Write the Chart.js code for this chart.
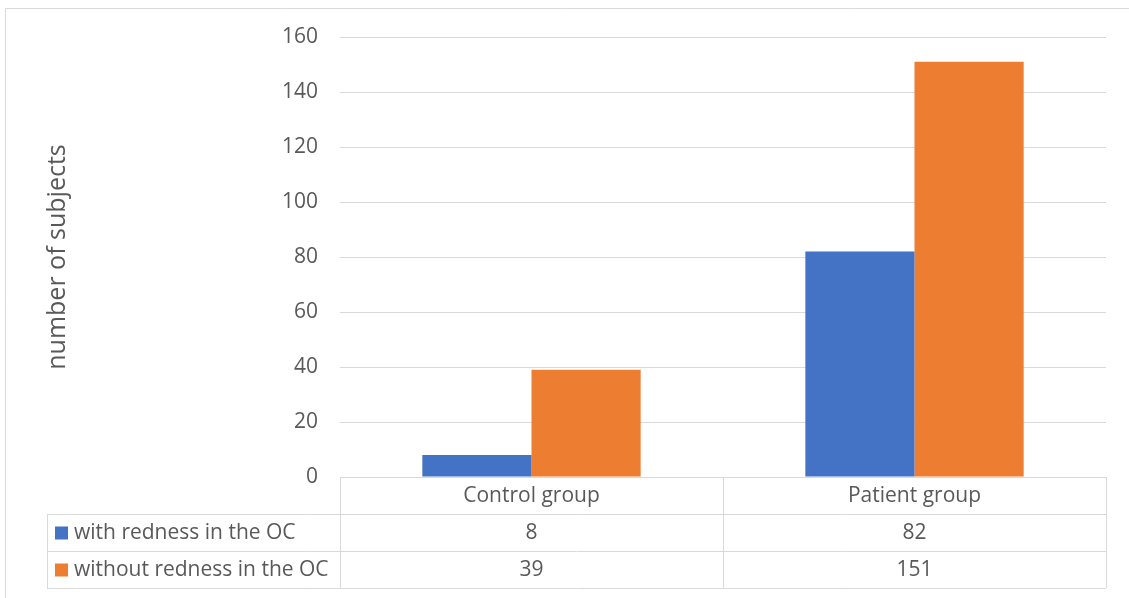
<!DOCTYPE html>
<html>
<head>
<meta charset="utf-8">
<script src="https://cdn.jsdelivr.net/npm/chart.js@4/dist/chart.umd.min.js"></script>
<style>
  html, body { margin:0; padding:0; background:#fff; }
  #wrap { width:1129px; height:598px; position:relative; }
</style>
</head>
<body>
<div id="wrap"><canvas id="c" width="1129" height="598"></canvas></div>
<script>
const groups = ['Control group', 'Patient group'];
const seriesNames = ['with redness in the OC', 'without redness in the OC'];
const withRedness = [8, 82];
const withoutRedness = [39, 151];
const seriesColors = ['#4472C4', '#ED7D31'];

const FONT = '"Open Sans", "Liberation Sans", sans-serif';
const TEXT = '#595959';
const LINE = '#d9d9d9';

// data table under the plot, plus the outer frame
const tablePlugin = {
  id: 'dataTable',
  afterDraw(chart){
    const ctx = chart.ctx;
    const x = chart.scales.x;
    const area = chart.chartArea;
    const rowH = 37;
    const tableLeft = 47;
    const half = (x.getPixelForValue(1) - x.getPixelForValue(0)) / 2;
    const colEdges = groups.map((g,i) => x.getPixelForValue(i) - half);
    colEdges.push(x.getPixelForValue(groups.length-1) + half);
    const rows = [area.bottom, area.bottom+rowH, area.bottom+2*rowH, area.bottom+3*rowH];

    ctx.save();
    ctx.strokeStyle = LINE;
    ctx.lineWidth = 1;
    ctx.beginPath();
    // horizontal lines
    ctx.moveTo(colEdges[0], rows[0]+0.5); ctx.lineTo(colEdges[colEdges.length-1], rows[0]+0.5);
    for(let r=1;r<rows.length;r++){
      ctx.moveTo(tableLeft, rows[r]+0.5); ctx.lineTo(colEdges[colEdges.length-1], rows[r]+0.5);
    }
    // vertical lines
    colEdges.forEach(cx => { ctx.moveTo(Math.round(cx)+0.5, rows[0]); ctx.lineTo(Math.round(cx)+0.5, rows[3]); });
    ctx.moveTo(tableLeft+0.5, rows[1]); ctx.lineTo(tableLeft+0.5, rows[3]);
    // outer frame
    ctx.moveTo(5.5, chart.height+2); ctx.lineTo(5.5, 8.5); ctx.lineTo(chart.width+2, 8.5);
    ctx.stroke();

    ctx.fillStyle = TEXT;
    ctx.font = '21px ' + FONT;
    ctx.textBaseline = 'middle';
    ctx.textAlign = 'center';
    groups.forEach((g,i) => ctx.fillText(g, x.getPixelForValue(i), rows[0]+rowH/2+1));
    const values = [withRedness, withoutRedness];
    values.forEach((vals, r) => {
      const cy = rows[r+1] + rowH/2 + 1;
      ctx.textAlign = 'center';
      ctx.fillStyle = TEXT;
      vals.forEach((v,i) => ctx.fillText(String(v), x.getPixelForValue(i), cy));
      ctx.fillStyle = seriesColors[r];
      ctx.fillRect(55, cy-7, 13, 13);
      ctx.fillStyle = TEXT;
      ctx.textAlign = 'left';
      ctx.fillText(seriesNames[r], 74, cy);
    });
    ctx.restore();
  }
};

new Chart(document.getElementById('c'), {
  type: 'bar',
  data: {
    labels: groups,
    datasets: [
      { label: seriesNames[0], data: withRedness, backgroundColor: seriesColors[0] },
      { label: seriesNames[1], data: withoutRedness, backgroundColor: seriesColors[1] }
    ]
  },
  options: {
    responsive: false,
    animation: false,
    layout: { padding: { top: 37, right: 23, bottom: 121, left: 0 } },
    datasets: { bar: { categoryPercentage: 0.57, barPercentage: 1 } },
    plugins: { legend: { display: false }, tooltip: { enabled: false } },
    scales: {
      x: { display: false },
      y: {
        min: 0, max: 160,
        ticks: { stepSize: 20, color: TEXT, padding: 22, font: { family: FONT, size: 21 } },
        grid: { color: LINE, lineWidth: 1, drawTicks: false },
        border: { display: false },
        title: { display: true, text: 'number of subjects', color: TEXT, font: { family: FONT, size: 25 }, padding: { top: 43, bottom: 0 } },
        afterFit(scale){ scale.width = 340; }
      }
    }
  },
  plugins: [tablePlugin]
});
</script>
</body>
</html>
